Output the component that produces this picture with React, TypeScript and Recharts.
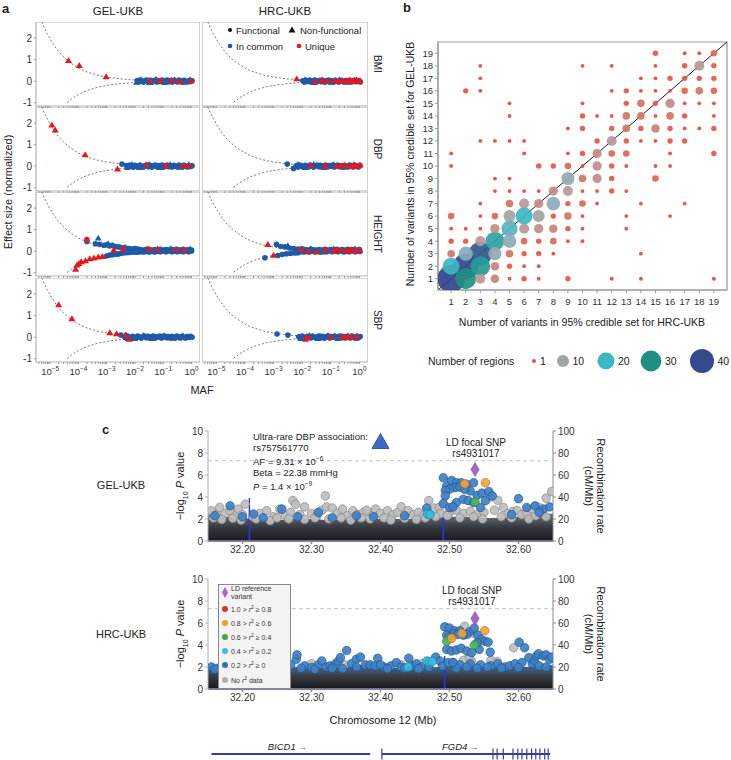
import React from 'react';
import {
    ComposedChart,
    ScatterChart,
    Scatter,
    Line,
    Area,
    XAxis,
    YAxis,
    ReferenceLine,
    ReferenceArea
} from 'recharts';

const FONT = '"Liberation Sans", Arial, Helvetica, sans-serif';
type P = [number, number];
type B = [number, number, number];

// ---------- panel a : effect size vs MAF (log10) ----------
const mafTicks = [-5, -4, -3, -2, -1, 0];
const effectTicks = [-1, 0, 1, 2];
const traits = ['BMI', 'DBP', 'HEIGHT', 'SBP'];

const upperCurve: P[] = [[-5.3, 2.76], [-5.1, 2.2], [-4.9, 1.75], [-4.7, 1.38], [-4.5, 1.1], [-4.25, 0.83], [-4.0, 0.62], [-3.75, 0.46], [-3.5, 0.35], [-3.25, 0.26], [-3.0, 0.2], [-2.5, 0.11], [-2.0, 0.06], [-1.5, 0.035], [-1.0, 0.02], [-0.5, 0.01], [0.0, 0.006]];
const lowerCurve: P[] = [[-4.4, -0.98], [-4.25, -0.83], [-4.0, -0.62], [-3.75, -0.46], [-3.5, -0.35], [-3.25, -0.26], [-3.0, -0.2], [-2.5, -0.11], [-2.0, -0.06], [-1.5, -0.035], [-1.0, -0.02], [-0.5, -0.01], [0.0, -0.006]];

const bmiGelDot: P[] = [[-1.92, 0.03], [-1.87, -0.03], [-1.82, 0.05], [-1.76, 0.0], [-1.7, -0.04], [-1.64, 0.03], [-1.58, 0.06], [-1.52, -0.02], [-1.46, 0.04], [-1.4, -0.05], [-1.34, 0.02], [-1.28, 0.05], [-1.22, -0.03], [-1.16, 0.03], [-1.1, -0.01], [-1.04, 0.05], [-0.98, -0.04], [-0.92, 0.02], [-0.86, 0.05], [-0.8, -0.02], [-0.74, 0.03], [-0.68, -0.04], [-0.62, 0.04], [-0.56, 0.0], [-0.5, -0.03], [-0.44, 0.05], [-0.38, 0.01], [-0.32, -0.03], [-0.26, 0.04], [-0.2, 0.0], [-0.14, -0.03], [-0.08, 0.03], [-0.03, -0.01], [0.02, 0.02]];
const bmiGelTri: P[] = [[-1.95, -0.06], [-1.78, 0.07], [-1.5, -0.07], [-1.25, 0.08], [-0.95, -0.07], [-0.6, 0.07], [-0.3, -0.06], [-0.05, 0.07]];
const bmiGelUTri: P[] = [[-4.35, 0.95], [-3.97, 0.72], [-3.02, 0.2], [-1.46, 0.03], [-0.7, 0.04], [-0.42, -0.02], [-0.02, 0.01]];
const bmiGelUDot: P[] = [[-1.1, 0.02]];

const bmiHrcDot: P[] = [[-1.98, 0.02], [-1.92, -0.04], [-1.86, 0.04], [-1.8, -0.01], [-1.74, 0.05], [-1.68, -0.03], [-1.62, 0.02], [-1.56, 0.05], [-1.5, -0.04], [-1.44, 0.01], [-1.38, 0.04], [-1.32, -0.02], [-1.26, 0.03], [-1.2, -0.04], [-1.14, 0.02], [-1.08, 0.05], [-1.02, -0.02], [-0.96, 0.03], [-0.9, -0.04], [-0.84, 0.04], [-0.78, 0.0], [-0.72, -0.03], [-0.66, 0.04], [-0.6, 0.01], [-0.54, -0.03], [-0.48, 0.03], [-0.42, -0.01], [-0.36, 0.04], [-0.3, -0.03], [-0.24, 0.02], [-0.18, 0.04], [-0.12, -0.02], [-0.06, 0.03], [0.0, 0.0], [0.03, -0.03]];
const bmiHrcTri: P[] = [[-1.9, 0.07], [-1.6, -0.07], [-1.3, 0.07], [-1.0, -0.06], [-0.7, 0.07], [-0.4, -0.06], [-0.1, 0.06]];
const bmiHrcUTri: P[] = [[-2.19, 0.1], [-1.55, -0.01], [-1.1, 0.0], [-0.85, 0.03], [-0.6, 0.02], [-0.46, 0.0], [-0.32, 0.04], [-0.17, 0.02], [-0.06, -0.01], [0.02, 0.03]];
const bmiHrcUDot: P[] = [[-1.3, 0.01], [-0.72, -0.02], [-0.38, 0.02], [-0.24, -0.02], [-0.1, 0.02]];

const dbpGelDot: P[] = [[-2.46, 0.1], [-2.3, 0.03], [-2.24, -0.04], [-2.18, 0.05], [-2.12, 0.0], [-2.06, -0.05], [-2.0, 0.04], [-1.94, 0.01], [-1.88, -0.03], [-1.82, 0.05], [-1.76, 0.0], [-1.7, -0.04], [-1.64, 0.03], [-1.58, 0.06], [-1.52, -0.02], [-1.46, 0.04], [-1.4, -0.04], [-1.34, 0.02], [-1.28, 0.05], [-1.22, -0.03], [-1.16, 0.03], [-1.1, 0.0], [-1.04, 0.05], [-0.98, -0.03], [-0.92, 0.02], [-0.86, 0.05], [-0.8, -0.02], [-0.74, 0.03], [-0.68, -0.03], [-0.62, 0.04], [-0.56, 0.0], [-0.5, -0.03], [-0.44, 0.05], [-0.38, 0.01], [-0.32, -0.03], [-0.26, 0.04], [-0.2, 0.0], [-0.14, -0.03], [-0.08, 0.03], [-0.03, -0.01], [0.02, 0.02]];
const dbpGelTri: P[] = [[-2.27, -0.08], [-2.1, 0.08], [-1.85, -0.07], [-1.5, 0.08], [-1.1, -0.07], [-0.75, 0.07], [-0.4, -0.06], [-0.1, 0.07]];
const dbpGelUTri: P[] = [[-4.94, 1.9], [-4.82, 1.67], [-3.76, 0.52], [-2.62, -0.14], [-1.6, 0.06], [-0.3, 0.03], [-0.1, 0.0]];
const dbpGelUDot: P[] = [[-0.9, 0.02]];

const dbpHrcDot: P[] = [[-2.52, 0.1], [-2.3, -0.1], [-2.2, 0.03], [-2.14, -0.04], [-2.08, 0.05], [-2.02, 0.0], [-1.96, -0.05], [-1.9, 0.04], [-1.84, 0.01], [-1.78, -0.03], [-1.72, 0.05], [-1.66, 0.0], [-1.6, -0.04], [-1.54, 0.03], [-1.48, 0.06], [-1.42, -0.02], [-1.36, 0.04], [-1.3, -0.04], [-1.24, 0.02], [-1.18, 0.05], [-1.12, -0.03], [-1.06, 0.03], [-1.0, 0.0], [-0.94, 0.05], [-0.88, -0.03], [-0.82, 0.02], [-0.76, 0.05], [-0.7, -0.02], [-0.64, 0.03], [-0.58, -0.03], [-0.52, 0.04], [-0.46, 0.0], [-0.4, -0.03], [-0.34, 0.05], [-0.28, 0.01], [-0.22, -0.03], [-0.16, 0.04], [-0.1, 0.0], [-0.04, -0.03], [0.02, 0.03]];
const dbpHrcTri: P[] = [[-2.15, 0.08], [-1.9, -0.07], [-1.6, 0.08], [-1.25, -0.07], [-0.9, 0.07], [-0.55, -0.06], [-0.2, 0.07]];
const dbpHrcUTri: P[] = [[-1.7, 0.03], [-0.8, -0.01], [-0.5, 0.03], [-0.32, 0.0], [-0.16, 0.03], [-0.05, 0.0], [0.02, 0.05]];
const dbpHrcUDot: P[] = [[-0.62, 0.02], [-0.22, -0.01], [-1.2, 0.0]];

const heightGelDot: P[] = [[-3.7, 0.45], [-3.4, 0.35], [-3.25, 0.32], [-3.1, 0.28], [-3.0, 0.3], [-2.9, 0.25], [-2.8, 0.27], [-2.7, 0.22], [-2.6, 0.2], [-2.5, 0.18], [-2.4, 0.15], [-2.3, 0.14], [-2.2, 0.12], [-2.1, 0.1], [-2.0, 0.12], [-1.9, 0.1],
    [-1.8, 0.08], [-1.7, 0.06], [-1.6, 0.09], [-1.5, 0.07], [-1.4, 0.05], [-1.3, 0.08], [-1.2, 0.06], [-1.1, 0.09], [-1.0, 0.05], [-0.9, 0.08], [-0.8, 0.06], [-0.7, 0.09], [-0.6, 0.05], [-0.5, 0.08], [-0.4, 0.06], [-0.3, 0.09], [-0.2, 0.05], [-0.1, 0.08], [0.0, 0.06],
    [-3.0, -0.22], [-2.9, -0.18], [-2.8, -0.16], [-2.7, -0.14], [-2.6, -0.12], [-2.5, -0.1], [-2.4, -0.08], [-2.3, -0.07], [-2.2, -0.06], [-2.1, -0.04], [-2.0, -0.03], [-1.9, -0.04], [-1.8, -0.02], [-1.7, -0.03], [-1.6, -0.01], [-1.5, -0.03], [-1.4, -0.01], [-1.3, -0.03], [-1.2, 0.0], [-1.1, -0.02], [-1.0, 0.0], [-0.9, -0.02], [-0.8, 0.01], [-0.7, -0.02], [-0.6, 0.0], [-0.5, -0.02], [-0.4, 0.01], [-0.3, -0.02], [-0.2, 0.0], [-0.1, -0.02], [0.0, 0.01]];
const heightGelTri: P[] = [[-3.3, 0.6], [-2.95, 0.35], [-2.65, -0.15], [-2.35, 0.18], [-1.95, -0.05], [-1.55, 0.1], [-1.15, -0.03], [-0.75, 0.1], [-0.35, -0.03], [-0.05, 0.1]];
const heightGelUTri: P[] = [[-4.1, -0.85], [-4.05, -0.65], [-3.98, -0.58], [-3.9, -0.5], [-3.75, -0.45], [-3.6, -0.36], [-3.45, -0.32], [-3.3, -0.28], [-3.15, -0.25], [-2.75, 0.05], [-1.2, 0.1], [-0.55, 0.08], [-0.25, 0.05]];
const heightGelUDot: P[] = [[-3.7, 0.55], [-2.42, 0.1], [-1.5, 0.1]];

const heightHrcDot: P[] = [[-2.9, 0.32], [-2.75, 0.22], [-2.6, 0.2], [-2.45, 0.15], [-2.3, 0.13], [-2.15, 0.1], [-2.0, 0.11],
    [-3.3, -0.3], [-2.85, -0.2], [-2.7, -0.15], [-2.55, -0.12], [-2.4, -0.1], [-2.25, -0.07], [-2.1, -0.05],
    [-1.9, 0.08], [-1.8, 0.06], [-1.7, 0.09], [-1.6, 0.07], [-1.5, 0.05], [-1.4, 0.08], [-1.3, 0.06], [-1.2, 0.09], [-1.1, 0.05], [-1.0, 0.08], [-0.9, 0.06], [-0.8, 0.09], [-0.7, 0.05], [-0.6, 0.08], [-0.5, 0.06], [-0.4, 0.09], [-0.3, 0.05], [-0.2, 0.08], [-0.1, 0.06], [0.0, 0.08],
    [-1.95, -0.03], [-1.85, -0.01], [-1.75, -0.03], [-1.65, 0.0], [-1.55, -0.02], [-1.45, 0.0], [-1.35, -0.03], [-1.25, 0.0], [-1.15, -0.02], [-1.05, 0.01], [-0.95, -0.02], [-0.85, 0.0], [-0.75, -0.02], [-0.65, 0.01], [-0.55, -0.02], [-0.45, 0.0], [-0.35, -0.02], [-0.25, 0.01], [-0.15, -0.02], [-0.05, 0.0], [0.02, -0.01]];
const heightHrcTri: P[] = [[-2.5, 0.25], [-2.2, -0.1], [-1.7, 0.12], [-1.3, -0.05], [-0.9, 0.1], [-0.5, -0.04], [-0.15, 0.1]];
const heightHrcUTri: P[] = [[-3.2, 0.3], [-3.0, -0.2], [-2.05, 0.1], [-1.5, -0.04], [-1.2, 0.06], [-0.9, 0.0], [-0.62, 0.05], [-0.42, -0.01], [-0.27, 0.06], [-0.12, 0.01], [0.0, 0.05]];
const heightHrcUDot: P[] = [[-1.8, -0.02], [-0.8, 0.04], [-0.35, 0.07]];

const sbpGelDot: P[] = [[-2.5, 0.1], [-2.38, 0.03], [-2.32, -0.04], [-2.26, 0.05], [-2.2, 0.0], [-2.14, -0.05], [-2.08, 0.04], [-2.02, 0.01], [-1.96, -0.03], [-1.9, 0.05], [-1.84, 0.0], [-1.78, -0.04], [-1.72, 0.03], [-1.66, 0.06], [-1.6, -0.02], [-1.54, 0.04], [-1.48, -0.04], [-1.42, 0.02], [-1.36, 0.05], [-1.3, -0.03], [-1.24, 0.03], [-1.18, 0.0], [-1.12, 0.05], [-1.06, -0.03], [-1.0, 0.02], [-0.94, 0.05], [-0.88, -0.02], [-0.82, 0.03], [-0.76, -0.03], [-0.7, 0.04], [-0.64, 0.0], [-0.58, -0.03], [-0.52, 0.05], [-0.46, 0.01], [-0.4, -0.03], [-0.34, 0.04], [-0.28, 0.0], [-0.22, -0.03], [-0.16, 0.03], [-0.1, -0.01], [-0.04, 0.04], [0.02, 0.0]];
const sbpGelTri: P[] = [[-2.3, 0.08], [-2.0, -0.07], [-1.7, 0.08], [-1.35, -0.07], [-1.0, 0.07], [-0.65, -0.06], [-0.3, 0.07]];
const sbpGelUTri: P[] = [[-4.7, 1.5], [-4.23, 0.85], [-2.89, 0.2], [-2.65, 0.15], [-2.34, 0.1], [-2.2, -0.1]];
const sbpGelUDot: P[] = [];

const sbpHrcDot: P[] = [[-2.88, 0.15], [-2.5, 0.1], [-2.12, 0.02], [-2.06, -0.04], [-2.0, 0.05], [-1.94, 0.0], [-1.88, -0.05], [-1.82, 0.04], [-1.76, 0.01], [-1.7, -0.03], [-1.64, 0.05], [-1.58, 0.0], [-1.52, -0.04], [-1.46, 0.03], [-1.4, 0.06], [-1.34, -0.02], [-1.28, 0.04], [-1.22, -0.04], [-1.16, 0.02], [-1.1, 0.05], [-1.04, -0.03], [-0.98, 0.03], [-0.92, 0.0], [-0.86, 0.05], [-0.8, -0.03], [-0.74, 0.02], [-0.68, 0.05], [-0.62, -0.02], [-0.56, 0.03], [-0.5, -0.03], [-0.44, 0.04], [-0.38, 0.0], [-0.32, -0.03], [-0.26, 0.05], [-0.2, 0.01], [-0.14, -0.03], [-0.08, 0.04], [-0.02, 0.0], [0.03, 0.03]];
const sbpHrcTri: P[] = [[-2.05, -0.08], [-1.75, 0.08], [-1.45, -0.07], [-1.1, 0.08], [-0.75, -0.07], [-0.4, 0.07], [-0.1, -0.06]];
const sbpHrcUTri: P[] = [[-1.88, -0.1], [-1.0, 0.01], [-0.6, 0.03], [-0.3, 0.02], [-0.1, 0.04]];
const sbpHrcUDot: P[] = [[-1.8, -0.02], [-0.45, 0.0]];

const panelSets = [
    [{ dot: bmiGelDot, tri: bmiGelTri, uTri: bmiGelUTri, uDot: bmiGelUDot }, { dot: bmiHrcDot, tri: bmiHrcTri, uTri: bmiHrcUTri, uDot: bmiHrcUDot }],
    [{ dot: dbpGelDot, tri: dbpGelTri, uTri: dbpGelUTri, uDot: dbpGelUDot }, { dot: dbpHrcDot, tri: dbpHrcTri, uTri: dbpHrcUTri, uDot: dbpHrcUDot }],
    [{ dot: heightGelDot, tri: heightGelTri, uTri: heightGelUTri, uDot: heightGelUDot }, { dot: heightHrcDot, tri: heightHrcTri, uTri: heightHrcUTri, uDot: heightHrcUDot }],
    [{ dot: sbpGelDot, tri: sbpGelTri, uTri: sbpGelUTri, uDot: sbpGelUDot }, { dot: sbpHrcDot, tri: sbpHrcTri, uTri: sbpHrcUTri, uDot: sbpHrcUDot }]
];

// ---------- panel b : credible set sizes ----------
const countTicks = [1, 2, 3, 4, 5, 6, 7, 8, 9, 10, 11, 12, 13, 14, 15, 16, 17, 18, 19];
const legendCounts = [1, 10, 20, 30, 40];
const regionCounts: B[] = [
    [15, 19, 2], [17, 19, 1], [18, 19, 1], [19, 19, 3],
    [3, 18, 1], [10, 18, 1], [12, 18, 1], [15, 18, 1], [17, 18, 2], [18, 18, 7], [19, 18, 2],
    [3, 17, 1], [14, 17, 1], [15, 17, 1], [16, 17, 2], [17, 17, 2], [18, 17, 2], [19, 17, 2],
    [2, 16, 2], [3, 16, 1], [12, 16, 1], [13, 16, 2], [14, 16, 1], [15, 16, 1], [16, 16, 1], [17, 16, 3], [18, 16, 4], [19, 16, 3],
    [5, 15, 1], [10, 15, 1], [13, 15, 2], [14, 15, 4], [15, 15, 2], [16, 15, 6], [17, 15, 1], [18, 15, 1], [19, 15, 1],
    [5, 14, 1], [10, 14, 2], [11, 14, 1], [12, 14, 1], [13, 14, 4], [14, 14, 4], [15, 14, 1], [16, 14, 4], [17, 14, 2], [19, 14, 1],
    [9, 13, 1], [10, 13, 2], [12, 13, 2], [13, 13, 4], [14, 13, 2], [15, 13, 5], [16, 13, 2], [17, 13, 1], [18, 13, 1], [19, 13, 2],
    [3, 12, 1], [4, 12, 1], [5, 12, 1], [6, 12, 1], [11, 12, 2], [12, 12, 7], [13, 12, 2], [14, 12, 1], [15, 12, 1], [16, 12, 2], [17, 12, 2],
    [1, 11, 1], [6, 11, 1], [9, 11, 1], [10, 11, 2], [11, 11, 6], [12, 11, 3], [13, 11, 3], [16, 11, 1], [19, 11, 2],
    [1, 10, 1], [7, 10, 2], [8, 10, 2], [9, 10, 3], [10, 10, 1], [11, 10, 6], [12, 10, 2], [13, 10, 1], [15, 10, 1], [16, 10, 1],
    [4, 9, 1], [5, 9, 1], [9, 9, 12], [10, 9, 4], [11, 9, 6], [12, 9, 2], [15, 9, 3],
    [4, 8, 1], [5, 8, 1], [6, 8, 1], [7, 8, 1], [8, 8, 6], [9, 8, 7], [10, 8, 1], [11, 8, 1], [12, 8, 2], [13, 8, 1],
    [3, 7, 1], [5, 7, 4], [6, 7, 7], [7, 7, 6], [8, 7, 13], [9, 7, 2], [10, 7, 3], [11, 7, 1], [14, 7, 1], [17, 7, 1],
    [1, 6, 3], [3, 6, 1], [4, 6, 3], [5, 6, 10], [6, 6, 20], [7, 6, 10], [8, 6, 2], [9, 6, 4], [10, 6, 1], [13, 6, 1], [16, 6, 1],
    [1, 5, 1], [2, 5, 1], [3, 5, 1], [4, 5, 6], [5, 5, 18], [6, 5, 7], [7, 5, 6], [8, 5, 5], [9, 5, 2], [10, 5, 1], [13, 5, 1],
    [1, 4, 2], [2, 4, 2], [3, 4, 7], [4, 4, 25], [5, 4, 13], [6, 4, 3], [7, 4, 2], [8, 4, 3], [9, 4, 1], [10, 4, 1],
    [1, 3, 4], [2, 3, 14], [3, 3, 38], [4, 3, 12], [5, 3, 4], [6, 3, 2], [7, 3, 2], [8, 3, 1], [14, 3, 1],
    [1, 2, 20], [2, 2, 45], [3, 2, 27], [4, 2, 5], [5, 2, 2], [6, 2, 1], [7, 2, 1],
    [1, 1, 52], [2, 1, 30], [3, 1, 7], [4, 1, 5], [5, 1, 1], [6, 1, 2], [7, 1, 1], [9, 1, 2], [12, 1, 1], [14, 1, 1], [19, 1, 1]
];

const bubbleStops: [number, string][] = [[1, '#e8472f'], [3, '#dd6552'], [5, '#c98276'], [7, '#b7989a'], [10, '#a3a3a3'], [14, '#86adbd'], [20, '#3bb7c2'], [30, '#1f8f82'], [40, '#344a8c'], [60, '#2e3f86']];
function hex(c: string) {
    return [1, 3, 5].map(i => parseInt(c.slice(i, i + 2), 16));
}
function bubbleColor(n: number) {
    for (let i = 0; i < bubbleStops.length - 1; i++) {
        const [a, ca] = bubbleStops[i];
        const [b, cb] = bubbleStops[i + 1];
        if (n <= b) {
            const t = Math.max(0, (n - a) / (b - a));
            const A = hex(ca), Bc = hex(cb);
            return `rgb(${A.map((v, k) => Math.round(v + (Bc[k] - v) * t)).join(',')})`;
        }
    }
    return bubbleStops[bubbleStops.length - 1][1];
}
const bubbleR = (n: number) => 1.9 * Math.sqrt(n);

// ---------- panel c : locus plots ----------
const chrTicks = [32.2, 32.3, 32.4, 32.5, 32.6];
const pTicks = [0, 2, 4, 6, 8, 10];
const rateTicks = [0, 20, 40, 60, 80, 100];

const gelEnvelope: P[] = [[32.15, 2.4], [32.175, 2.2], [32.2, 2.1], [32.225, 2.0], [32.25, 1.9], [32.275, 2.0], [32.3, 2.0], [32.325, 1.9], [32.35, 2.0], [32.375, 2.0], [32.4, 2.0], [32.425, 2.0], [32.45, 2.0], [32.475, 2.1], [32.5, 2.2], [32.525, 2.2], [32.55, 2.1], [32.575, 2.1], [32.6, 2.2], [32.625, 2.4], [32.65, 2.5]];
const gelGrey: P[] = [[32.155, 2.75], [32.162, 2.4], [32.167, 3.05], [32.175, 2.5], [32.182, 2.75], [32.19, 2.3], [32.194, 2.9], [32.2, 2.4], [32.204, 3.35], [32.215, 2.2], [32.225, 2.5], [32.235, 2.75], [32.245, 2.2], [32.254, 2.9], [32.262, 2.3], [32.27, 2.6], [32.273, 3.67], [32.277, 3.35], [32.283, 2.4], [32.29, 3.1], [32.3, 2.5], [32.308, 2.3], [32.315, 2.8], [32.32, 4.1], [32.322, 3.1], [32.33, 3.0], [32.338, 2.5], [32.345, 2.9], [32.352, 2.3], [32.36, 2.75], [32.368, 2.4], [32.375, 2.6], [32.38, 2.8], [32.388, 2.3], [32.393, 2.9], [32.4, 2.5], [32.41, 2.75], [32.418, 2.4], [32.425, 2.6], [32.43, 3.1], [32.44, 2.75], [32.448, 2.4], [32.455, 2.6], [32.462, 2.3], [32.47, 3.67], [32.478, 3.0], [32.485, 3.05], [32.487, 2.5], [32.5, 2.6], [32.51, 2.8], [32.52, 2.5], [32.53, 2.7], [32.54, 2.4], [32.55, 2.6], [32.56, 4.0], [32.565, 2.8], [32.57, 3.7], [32.578, 3.05], [32.585, 2.5], [32.592, 2.7], [32.598, 2.75], [32.605, 2.4], [32.612, 2.6], [32.62, 2.9], [32.63, 3.05], [32.64, 3.9], [32.648, 4.5],
    [32.158, 2.1], [32.17, 1.95], [32.186, 2.05], [32.198, 1.9], [32.22, 2.0], [32.24, 1.85], [32.25, 2.1], [32.267, 2.0], [32.29, 1.95], [32.305, 2.1], [32.325, 2.0], [32.343, 2.1], [32.357, 1.9], [32.372, 2.1], [32.385, 2.0], [32.405, 2.1], [32.415, 1.9], [32.435, 2.05], [32.452, 1.95], [32.465, 2.1], [32.48, 2.2], [32.497, 2.3], [32.515, 2.1], [32.535, 2.2], [32.548, 2.0], [32.575, 2.2], [32.59, 2.1], [32.615, 2.0], [32.625, 2.3], [32.64, 2.2]];
const gelBlue: P[] = [[32.16, 2.3], [32.182, 3.2], [32.2, 2.2], [32.216, 2.45], [32.23, 2.1], [32.257, 2.9], [32.28, 2.2], [32.31, 2.6], [32.33, 2.1], [32.365, 2.3], [32.39, 2.2], [32.435, 2.3], [32.467, 3.0], [32.47, 2.45], [32.6, 3.85], [32.612, 3.05], [32.624, 3.2], [32.636, 2.9], [32.645, 3.1], [32.59, 2.4], [32.63, 2.6],
    [32.491, 5.75], [32.496, 5.0], [32.503, 5.5], [32.51, 5.3], [32.517, 5.3], [32.525, 5.15], [32.508, 4.85], [32.5, 4.7], [32.494, 4.6], [32.535, 5.3], [32.54, 4.15], [32.547, 4.35], [32.557, 4.5], [32.53, 4.55], [32.494, 4.1], [32.491, 3.4], [32.5, 3.05], [32.51, 3.5], [32.52, 3.8], [32.527, 3.67], [32.535, 3.5], [32.545, 3.05], [32.552, 3.67], [32.562, 4.1], [32.505, 3.1], [32.515, 4.9], [32.522, 4.7]];
const gelOrange: P[] = [[32.552, 5.3], [32.522, 5.2]];
const gelGreen: P[] = [[32.537, 3.55]];
const gelCyan: P[] = [[32.468, 2.45], [32.472, 2.4]];
const gelRecomb: P[] = [[32.15, 0], [32.2095, 0], [32.21, 39], [32.2105, 0], [32.4905, 0], [32.491, 27], [32.4915, 0], [32.65, 0]];
const gelLead: P[] = [[32.537, 6.5]];
const rareHit: P[] = [[32.4, 8.95]];

const hrcEnvelope: P[] = [[32.15, 2.1], [32.175, 2.0], [32.2, 2.0], [32.225, 1.9], [32.25, 1.9], [32.275, 2.0], [32.3, 2.0], [32.325, 1.9], [32.35, 2.0], [32.375, 2.2], [32.4, 2.1], [32.425, 1.9], [32.45, 2.0], [32.475, 2.0], [32.5, 2.1], [32.525, 2.1], [32.55, 2.0], [32.575, 2.0], [32.6, 2.0], [32.625, 2.1], [32.65, 2.2]];
const hrcGrey: P[] = [[32.348, 2.2], [32.593, 3.75], [32.569, 2.5], [32.52, 2.6], [32.532, 2.55], [32.3, 2.3], [32.43, 2.2], [32.46, 2.3], [32.56, 2.6], [32.522, 5.7], [32.534, 5.05], [32.529, 2.85]];
const hrcBlue: P[] = [[32.155, 2.0], [32.165, 1.9], [32.175, 2.1], [32.19, 1.95], [32.2, 2.0], [32.215, 1.9], [32.23, 2.05], [32.245, 1.95], [32.26, 2.0], [32.27, 2.2], [32.278, 2.7], [32.279, 3.1], [32.29, 2.1], [32.3, 1.95], [32.31, 2.2], [32.315, 2.55], [32.322, 2.0], [32.327, 2.1], [32.335, 2.3], [32.339, 2.55], [32.342, 2.85], [32.351, 3.5], [32.358, 2.3], [32.365, 2.7], [32.371, 2.9], [32.378, 2.2], [32.385, 2.2], [32.392, 2.1], [32.396, 2.8], [32.405, 2.0], [32.415, 2.1], [32.423, 2.4], [32.43, 2.0], [32.441, 2.8], [32.447, 2.1], [32.452, 2.3], [32.46, 2.0], [32.48, 2.9], [32.486, 2.55], [32.49, 2.1], [32.505, 2.4], [32.515, 2.2], [32.53, 2.3], [32.545, 2.2], [32.56, 2.1], [32.57, 2.3], [32.58, 2.0], [32.587, 2.1], [32.595, 2.3], [32.601, 4.25], [32.605, 2.4], [32.609, 3.75], [32.615, 2.85], [32.62, 2.3], [32.623, 2.55], [32.626, 3.0], [32.629, 3.2], [32.636, 3.0], [32.64, 3.1], [32.645, 2.7], [32.648, 2.9],
    [32.16, 1.8], [32.185, 1.85], [32.205, 1.8], [32.222, 1.9], [32.238, 1.8], [32.252, 1.85], [32.285, 1.9], [32.305, 1.8], [32.33, 1.9], [32.345, 1.85], [32.365, 2.0], [32.4, 2.2], [32.41, 1.85], [32.435, 1.9], [32.455, 1.85], [32.47, 2.0], [32.51, 1.9], [32.525, 2.0], [32.54, 1.9], [32.555, 2.0], [32.575, 1.9], [32.6, 1.95], [32.63, 2.1], [32.64, 2.0],
    [32.493, 5.65], [32.5, 5.55], [32.507, 5.3], [32.515, 5.3], [32.529, 5.2], [32.536, 5.55], [32.496, 4.9], [32.505, 5.0], [32.512, 4.95], [32.525, 4.95], [32.541, 4.9], [32.546, 4.5], [32.551, 4.35], [32.556, 4.25], [32.543, 3.6], [32.559, 3.35], [32.496, 3.6], [32.503, 3.45], [32.51, 3.55], [32.517, 3.7], [32.525, 3.45], [32.532, 3.3], [32.498, 2.4], [32.505, 2.4], [32.54, 4.2], [32.52, 4.9], [32.499, 4.7]];
const hrcOrange: P[] = [[32.551, 5.3], [32.503, 4.6], [32.518, 5.05]];
const hrcGreen: P[] = [[32.496, 4.35], [32.536, 4.0]];
const hrcCyan: P[] = [[32.467, 2.55], [32.471, 2.5], [32.475, 2.5], [32.44, 2.0]];
const hrcRecomb: P[] = [[32.15, 0], [32.4925, 0], [32.493, 30], [32.4935, 0], [32.65, 0]];
const hrcLead: P[] = [[32.537, 6.4]];

const genes = [
    { name: 'BICD1', start: 32.155, end: 32.385 },
    { name: 'FGD4', start: 32.402, end: 32.646 }
];
const fgd4Exons = [32.402, 32.563, 32.569, 32.578, 32.592, 32.599, 32.605, 32.612, 32.619, 32.625, 32.631, 32.638, 32.643];

const ldLegend = [
    { label: '1.0 > ', hi: '0.8', color: '#d7322a' },
    { label: '0.8 > ', hi: '0.6', color: '#f0a02a' },
    { label: '0.6 > ', hi: '0.4', color: '#3aaa48' },
    { label: '0.4 > ', hi: '0.2', color: '#3bbbe0' },
    { label: '0.2 > ', hi: '0', color: '#2e72b8' }
];

// ---------- helpers ----------
const BLUE_A = '#1f5aa8';
const RED_A = '#e8161b';
const GENE = '#3b3b9a';

const NoTick = () => null;

const MafTick = ({ x, y, payload }: any) => {
    const v = payload.value;
    if (!mafTicks.includes(v)) return null;
    return (
        <text x={x} y={y + 9} textAnchor="middle" fontSize={9.5} fill="#333">
            10<tspan dy={-4} fontSize={6.5}>{v === 0 ? '0' : `\u2212${-v}`}</tspan>
        </text>
    );
};

const dotShape = (color: string, r: number) => (p: any) => <circle cx={p.cx} cy={p.cy} r={r} fill={color} />;
const triShape = (color: string, s: number) => (p: any) => (
    <polygon points={`${p.cx},${p.cy - s} ${p.cx - s * 0.95},${p.cy + s * 0.62} ${p.cx + s * 0.95},${p.cy + s * 0.62}`} fill={color} />
);
const locusDot = (fill: string, stroke: string) => (p: any) => (
    <circle cx={p.cx} cy={p.cy} r={4.3} fill={fill} stroke={stroke} strokeWidth={0.6} fillOpacity={0.92} />
);
const diamondShape = (p: any) => (
    <polygon points={`${p.cx},${p.cy - 7} ${p.cx + 4.2},${p.cy} ${p.cx},${p.cy + 7} ${p.cx - 4.2},${p.cy}`} fill="#a765c9" stroke="#7b3ea0" strokeWidth={0.5} />
);
const bigTriangle = (p: any) => (
    <polygon points={`${p.cx},${p.cy - 9} ${p.cx - 8.5},${p.cy + 6} ${p.cx + 8.5},${p.cy + 6}`} fill="#3d6cc6" stroke="#1d3f85" strokeWidth={0.8} />
);
const exonTick = (p: any) => <line x1={p.cx} x2={p.cx} y1={p.cy - 5.5} y2={p.cy + 5.5} stroke={GENE} strokeWidth={1.2} />;
const Bubble = (p: any) => (
    <circle cx={p.cx} cy={p.cy} r={bubbleR(p.payload.n)} fill={bubbleColor(p.payload.n)} fillOpacity={0.92} />
);

const xy = (a: P[]) => a.map(([x, y]) => ({ x, y }));
const pp = (a: P[]) => a.map(([pos, p]) => ({ pos, p }));

const mafAxisTicks = [-6, -5, -4, -3, -2, -1, 0]
    .flatMap(d => [1, 2, 3, 4, 5, 6, 7, 8, 9].map(m => d + Math.log10(m)))
    .filter(v => v >= -5.5 && v <= 0.3);

function Txt({ x, y, size = 11, anchor = 'middle', rotate = 0, weight = 400, children, style }: any) {
    const tx = anchor === 'middle' ? '-50%' : anchor === 'end' ? '-100%' : '0';
    return (
        <div style={{
            position: 'absolute', left: x, top: y, whiteSpace: 'nowrap', fontSize: size, fontWeight: weight,
            lineHeight: 1, color: '#222', transform: `translate(${tx}, -50%) rotate(${rotate}deg)`, ...style
        }}>{children}</div>
    );
}

function EffectPanel({ left, top, w, h, showY, showX, set }: any) {
    const yw = showY ? 30 : 0;
    const xh = showX ? 20 : 4;
    return (
        <div style={{ position: 'absolute', left: left - yw, top }}>
            <ComposedChart width={w + yw} height={h + xh} margin={{ top: 0, right: 0, bottom: 0, left: 0 }}>
                <XAxis type="number" dataKey="x" domain={[-5.5, 0.3]} ticks={mafAxisTicks} interval={0} allowDataOverflow
                    height={xh} axisLine={false} tickLine={{ stroke: '#999' }} tickSize={2}
                    tick={showX ? <MafTick /> : <NoTick />} />
                <YAxis type="number" dataKey="y" domain={[-1.15, 2.75]} ticks={effectTicks} interval={0} allowDataOverflow
                    width={yw} hide={!showY} axisLine={false} tickLine={{ stroke: '#999' }} tickSize={2}
                    tick={{ fontSize: 10, fill: '#333' }} />
                <ReferenceArea x1={-5.5} x2={0.3} y1={-1.15} y2={2.75} fill="#fff" fillOpacity={0} stroke="#b4b4b4" strokeWidth={1.2} />
                <Line data={xy(upperCurve)} dataKey="y" type="monotone" stroke="#555" strokeWidth={0.8} strokeDasharray="2 2" dot={false} isAnimationActive={false} />
                <Line data={xy(lowerCurve)} dataKey="y" type="monotone" stroke="#555" strokeWidth={0.8} strokeDasharray="2 2" dot={false} isAnimationActive={false} />
                <Scatter data={xy(set.dot)} dataKey="y" shape={dotShape(BLUE_A, 2.8)} isAnimationActive={false} />
                <Scatter data={xy(set.tri)} dataKey="y" shape={triShape(BLUE_A, 3.5)} isAnimationActive={false} />
                <Scatter data={xy(set.uDot)} dataKey="y" shape={dotShape(RED_A, 2.7)} isAnimationActive={false} />
                <Scatter data={xy(set.uTri)} dataKey="y" shape={triShape(RED_A, 3.7)} isAnimationActive={false} />
            </ComposedChart>
        </div>
    );
}

function LocusPlot({ top, env, grey, blue, orange, green, cyan, recomb, lead, hit, gradId, gradTop }: any) {
    return (
        <div style={{ position: 'absolute', left: 178, top }}>
            <ComposedChart width={405} height={138} data={pp(env)} margin={{ top: 6, right: 0, bottom: 0, left: 0 }}>
                <defs>
                    <linearGradient id={gradId} x1="0" y1="0" x2="0" y2="1">
                        <stop offset="0%" stopColor={gradTop} />
                        <stop offset="45%" stopColor="#3a3e44" />
                        <stop offset="100%" stopColor="#17181b" />
                    </linearGradient>
                </defs>
                <XAxis type="number" dataKey="pos" domain={[32.15, 32.65]} ticks={chrTicks} interval={0} allowDataOverflow
                    tickFormatter={(v: number) => v.toFixed(2)} height={22} stroke="#8a8a8a" strokeWidth={1.5} tickSize={3}
                    tick={{ fontSize: 10, fill: '#333' }} />
                <YAxis yAxisId="p" type="number" dataKey="p" domain={[0, 10]} ticks={pTicks} interval={0} allowDataOverflow
                    width={30} stroke="#b0b0b0" tickSize={3} tick={{ fontSize: 10, fill: '#333' }} />
                <YAxis yAxisId="r" orientation="right" type="number" domain={[0, 100]} ticks={rateTicks} interval={0}
                    width={30} stroke="#8a8a8a" tickSize={3} tick={{ fontSize: 10, fill: '#333' }} />
                <ReferenceLine yAxisId="p" y={7.3} stroke="#c4c4c4" strokeDasharray="4 3" />
                <Area yAxisId="p" dataKey="p" type="monotone" stroke="none" fill={`url(#${gradId})`} fillOpacity={1} isAnimationActive={false} zIndex={60} />
                <Line yAxisId="r" data={recomb.map(([pos, rate]: P) => ({ pos, rate }))} dataKey="rate" type="linear"
                    stroke="#2f2fe0" strokeWidth={1.3} dot={false} isAnimationActive={false} zIndex={450} />
                <Scatter yAxisId="p" data={pp(grey)} dataKey="p" shape={locusDot('#bdbdbd', '#7a7a7a')} isAnimationActive={false} />
                <Scatter yAxisId="p" data={pp(blue)} dataKey="p" shape={locusDot('#3e80c4', '#1d4d80')} isAnimationActive={false} />
                <Scatter yAxisId="p" data={pp(cyan)} dataKey="p" shape={locusDot('#3bbbe0', '#1d7d99')} isAnimationActive={false} />
                <Scatter yAxisId="p" data={pp(green)} dataKey="p" shape={locusDot('#4db35a', '#2a7a34')} isAnimationActive={false} />
                <Scatter yAxisId="p" data={pp(orange)} dataKey="p" shape={locusDot('#f0a23a', '#a8691a')} isAnimationActive={false} />
                <Scatter yAxisId="p" data={pp(lead)} dataKey="p" shape={diamondShape} isAnimationActive={false} />
                {hit && <Scatter yAxisId="p" data={pp(hit)} dataKey="p" shape={bigTriangle} isAnimationActive={false} />}
            </ComposedChart>
        </div>
    );
}

const PLabel = ({ y }: any) => (
    <Txt x={182} y={y} size={11} rotate={-90}>
        −log<sub style={{ fontSize: 7 }}>10</sub> <i>P</i> value
    </Txt>
);
const RLabel = ({ y }: any) => (
    <Txt x={595} y={y} size={11} rotate={90} style={{ textAlign: 'center', lineHeight: '12px' }}>
        Recombination rate<br />(cM/Mb)
    </Txt>
);

export default function App() {
    const cols = [{ left: 36, w: 164 }, { left: 202, w: 166 }];
    const rowTops = [22, 107, 192, 278];
    const bubbles = regionCounts.map(([x, y, n]) => ({ x, y, n })).sort((a, b) => b.n - a.n);

    return (
        <div style={{ position: 'absolute', left: 0, top: 0, width: 731, height: 760, background: '#fff', fontFamily: FONT, overflow: 'hidden' }}>
            {/* ---- a ---- */}
            <Txt x={2} y={8} size={13} anchor="start" weight={700}>a</Txt>
            <Txt x={118} y={12} size={11.5}>GEL-UKB</Txt>
            <Txt x={285} y={12} size={11.5}>HRC-UKB</Txt>
            {rowTops.map((t, r) => cols.map((c, ci) => (
                <EffectPanel key={`${r}-${ci}`} left={c.left} top={t} w={c.w} h={84}
                    showY={ci === 0} showX={r === 3} set={panelSets[r][ci]} />
            )))}
            {traits.map((t, r) => (
                <Txt key={t} x={377} y={rowTops[r] + 42} size={10} rotate={90}>{t}</Txt>
            ))}
            <Txt x={8} y={192} size={11} rotate={-90}>Effect size (normalized)</Txt>
            <Txt x={202} y={390} size={11}>MAF</Txt>
            <svg style={{ position: 'absolute', left: 202, top: 22 }} width={166} height={40}>
                <g fontSize={9.5} fill="#222">
                    <circle cx={28} cy={8} r={2} fill="#111" />
                    <text x={34} y={11.5}>Functional</text>
                    <polygon points="90,4.5 86.5,10.5 93.5,10.5" fill="#111" />
                    <text x={98} y={11.5}>Non-functional</text>
                    <circle cx={28} cy={24} r={2.3} fill={BLUE_A} />
                    <text x={34} y={27.5}>In common</text>
                    <circle cx={97} cy={24} r={2.3} fill={RED_A} />
                    <text x={103} y={27.5}>Unique</text>
                </g>
            </svg>

            {/* ---- b ---- */}
            <Txt x={403} y={7} size={13} anchor="start" weight={700}>b</Txt>
            <div style={{ position: 'absolute', left: 413, top: 36 }}>
                <ScatterChart width={318} height={272} margin={{ top: 6, right: 4, bottom: 0, left: 0 }}>
                    <XAxis type="number" dataKey="x" domain={[0.1, 19.9]} ticks={countTicks} interval={0} allowDataOverflow
                        height={18} stroke="#999" tickSize={3} tickMargin={5} tick={{ fontSize: 9.5, fill: '#333' }} />
                    <YAxis type="number" dataKey="y" domain={[0.1, 19.9]} ticks={countTicks} interval={0} allowDataOverflow
                        width={25} stroke="#999" tickSize={3} tick={{ fontSize: 9.5, fill: '#333' }} />
                    <ReferenceArea x1={0.1} x2={19.9} y1={0.1} y2={19.9} fill="#fff" fillOpacity={0} stroke="#999" strokeWidth={1.2} />
                    <Scatter data={bubbles} dataKey="y" shape={Bubble} isAnimationActive={false} />
                    <ReferenceLine segment={[{ x: 0.1, y: 0.1 }, { x: 19.9, y: 19.9 }]} stroke="#1a1a1a" strokeWidth={1} />
                </ScatterChart>
            </div>
            <Txt x={410} y={164} size={10.5} rotate={-90}>Number of variants in 95% credible set for GEL-UKB</Txt>
            <Txt x={582} y={322} size={10.5}>Number of variants in 95% credible set for HRC-UKB</Txt>
            <svg style={{ position: 'absolute', left: 420, top: 345 }} width={311} height={32}>
                <text x={8} y={20} fontSize={10.5} fill="#222">Number of regions</text>
                {legendCounts.map((n, i) => {
                    const cx = [114, 143, 186, 231, 282][i];
                    return (
                        <g key={n}>
                            <circle cx={cx} cy={16} r={bubbleR(n)} fill={bubbleColor(n)} />
                            <text x={cx + (i === 0 ? 6 : bubbleR(n) + 3.5)} y={20} fontSize={10.5} fill="#222">{n}</text>
                        </g>
                    );
                })}
            </svg>

            {/* ---- c ---- */}
            <Txt x={102} y={429} size={13} anchor="start" weight={700}>c</Txt>
            <Txt x={121} y={485} size={11}>GEL-UKB</Txt>
            <Txt x={121} y={634} size={11}>HRC-UKB</Txt>
            <LocusPlot top={425} env={gelEnvelope} grey={gelGrey} blue={gelBlue} orange={gelOrange} green={gelGreen}
                cyan={gelCyan} recomb={gelRecomb} lead={gelLead} hit={rareHit} gradId="gelMass" gradTop="#74777d" />
            <LocusPlot top={573} env={hrcEnvelope} grey={hrcGrey} blue={hrcBlue} orange={hrcOrange} green={hrcGreen}
                cyan={hrcCyan} recomb={hrcRecomb} lead={hrcLead} gradId="hrcMass" gradTop="#4174a6" />
            <PLabel y={486} />
            <PLabel y={634} />
            <RLabel y={486} />
            <RLabel y={634} />

            <div style={{ position: 'absolute', left: 253, top: 431, fontSize: 9.5, lineHeight: '11px', color: '#222', whiteSpace: 'nowrap' }}>
                <div>Ultra-rare DBP association:</div>
                <div>rs757561770</div>
                <div>AF = 9.31 × 10<sup style={{ fontSize: 6.5 }}>−6</sup></div>
                <div>Beta = 22.38 mmHg</div>
                <div><i>P</i> = 1.4 × 10<sup style={{ fontSize: 6.5 }}>−9</sup></div>
            </div>
            <Txt x={476} y={443} size={10}>LD focal SNP</Txt>
            <Txt x={476} y={454} size={10}>rs4931017</Txt>
            <Txt x={472} y={591} size={10}>LD focal SNP</Txt>
            <Txt x={472} y={602} size={10}>rs4931017</Txt>

            <svg style={{ position: 'absolute', left: 218, top: 584 }} width={74} height={106}>
                <rect x={0.5} y={0.5} width={72} height={104} fill="#f3f3f3" stroke="#8a8a8a" />
                <g fontSize={7} fill="#333">
                    <polygon points="7,3 10,8.5 7,14 4,8.5" fill="#a765c9" />
                    <text x={13} y={6.5}>LD reference</text>
                    <text x={13} y={14.5}>variant</text>
                    {ldLegend.map((d, i) => (
                        <g key={d.hi}>
                            <circle cx={7} cy={25 + i * 14} r={3} fill={d.color} />
                            <text x={13} y={27.5 + i * 14}>
                                {d.label}<tspan fontStyle="italic">r</tspan><tspan dy={-3} fontSize={5}>2</tspan><tspan dy={3}>{` ≥ ${d.hi}`}</tspan>
                            </text>
                        </g>
                    ))}
                    <circle cx={7} cy={96} r={3} fill="#b0b0b0" />
                    <text x={13} y={98.5}>No <tspan fontStyle="italic">r</tspan><tspan dy={-3} fontSize={5}>2</tspan><tspan dy={3}> data</tspan></text>
                </g>
            </svg>

            <Txt x={383} y={720} size={11}>Chromosome 12 (Mb)</Txt>

            {/* gene track */}
            <div style={{ position: 'absolute', left: 208, top: 744 }}>
                <ComposedChart width={345} height={20} margin={{ top: 0, right: 0, bottom: 0, left: 0 }}>
                    <XAxis type="number" dataKey="x" domain={[32.15, 32.65]} allowDataOverflow hide />
                    <YAxis type="number" dataKey="y" domain={[0, 1]} allowDataOverflow hide />
                    {genes.map(g => (
                        <Line key={g.name} data={[{ x: g.start, y: 0.5 }, { x: g.end, y: 0.5 }]} dataKey="y" type="linear"
                            stroke={GENE} strokeWidth={1.8} dot={false} isAnimationActive={false} />
                    ))}
                    <Scatter data={fgd4Exons.map(x => ({ x, y: 0.5 }))} dataKey="y" shape={exonTick} isAnimationActive={false} />
                </ComposedChart>
            </div>
            <Txt x={287} y={747} size={9.5}><i>BICD1</i> <span style={{ fontSize: 8 }}>→</span></Txt>
            <Txt x={460} y={747} size={9.5}><i>FGD4</i> <span style={{ fontSize: 8 }}>→</span></Txt>
        </div>
    );
}
